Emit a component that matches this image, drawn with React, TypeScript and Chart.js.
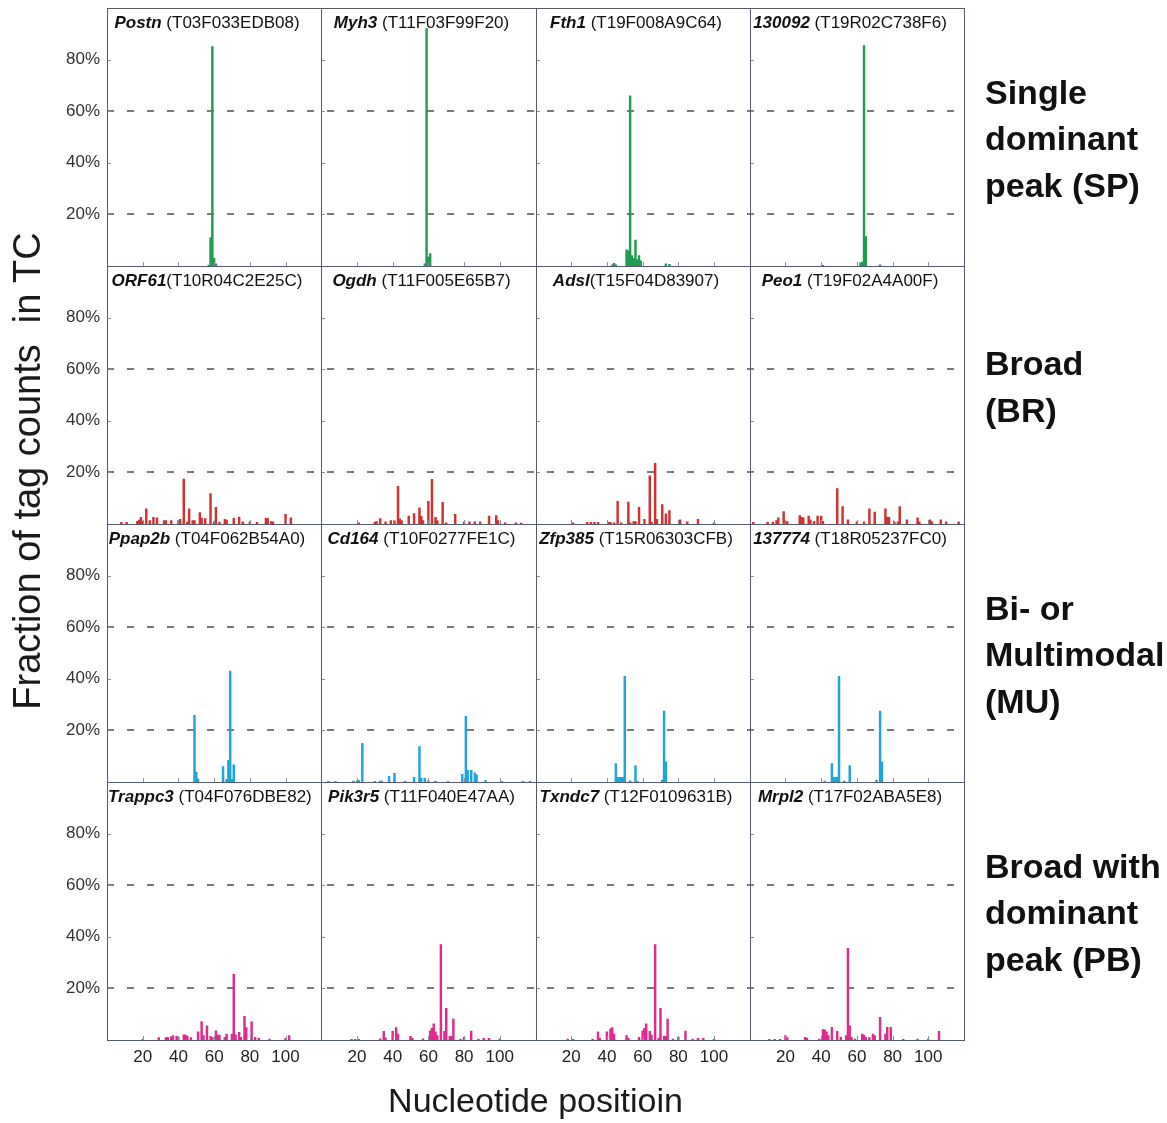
import React, { useEffect, useRef } from 'react';
import { Chart, registerables } from 'chart.js';

Chart.register(...registerables);

// ---------- text ----------
const geneNames = ['Postn', 'Myh3', 'Fth1', '130092', 'ORF61', 'Ogdh', 'Adsl', 'Peo1', 'Ppap2b', 'Cd164', 'Zfp385', '137774', 'Trappc3', 'Pik3r5', 'Txndc7', 'Mrpl2'];
const tcIds = [' (T03F033EDB08)', ' (T11F03F99F20)', ' (T19F008A9C64)', ' (T19R02C738F6)', '(T10R04C2E25C)', ' (T11F005E65B7)', '(T15F04D83907)', ' (T19F02A4A00F)', ' (T04F062B54A0)', ' (T10F0277FE1C)', ' (T15R06303CFB)', ' (T18R05237FC0)', ' (T04F076DBE82)', ' (T11F040E47AA)', ' (T12F0109631B)', ' (T17F02ABA5E8)'];
const rowLabels = [
  ['Single', 'dominant', 'peak (SP)'],
  ['Broad', '(BR)'],
  ['Bi- or', 'Multimodal', '(MU)'],
  ['Broad with', 'dominant', 'peak (PB)'],
];
const yAxisTitle = 'Fraction of tag counts  in TC';
const xAxisTitle = 'Nucleotide positioin';
const xTickValues = [20, 40, 60, 80, 100];
const yTickValues = [20, 40, 60, 80];
const dashedLevels = [20, 60];
const rowColors = ['#1f9d4f', '#d33030', '#1ba6dd', '#e02a8d'];

// ---------- data: nucleotide position / % of tag counts ----------
const postnPos = [57, 58, 59, 60, 61];
const postnVal = [0.4, 11, 85, 3, 0.8];
const myh3Pos = [58, 59, 60, 61];
const myh3Val = [0.8, 92, 3.5, 4.8];
const fth1Pos = [43, 44, 45, 51, 52, 53, 54, 55, 56, 57, 58, 59, 73, 75];
const fth1Val = [0.5, 1, 0.5, 6.3, 6, 66, 4, 3, 10, 2.5, 4, 2, 0.8, 0.6];
const c130092Pos = [41, 62, 63, 64, 65, 73];
const c130092Val = [0.3, 1.2, 1.5, 85.4, 11.4, 0.5];

const orf61Pos = [8, 11, 17, 18, 19, 20, 22, 24, 26, 28, 32, 33, 36, 40, 41, 43, 45, 46, 48, 49, 52, 53, 55, 58, 60, 61, 63, 66, 67, 71, 74, 76, 80, 84, 89, 90, 92, 93, 100, 103];
const orf61Val = [0.6, 0.6, 1, 1.5, 2.6, 1, 5.9, 1.3, 2.6, 2.4, 1.3, 1.3, 1.3, 1.3, 1.8, 17.4, 0.7, 5.9, 1.3, 1.3, 4.4, 2.3, 2.1, 11.8, 0.8, 6.5, 0.7, 1.8, 1.5, 2.2, 2.7, 0.8, 0.8, 0.6, 2.2, 2.2, 0.9, 0.8, 3.7, 2.4];
const ogdhPos = [21, 30, 31, 33, 36, 39, 41, 43, 44, 45, 49, 52, 55, 56, 57, 60, 62, 64, 65, 68, 70, 75, 80, 83, 86, 89, 94, 98, 99, 103, 109, 112];
const ogdhVal = [0.5, 0.7, 0.9, 2.1, 0.8, 1.3, 1.2, 14.6, 2, 1.3, 3.1, 4, 6.3, 3.1, 1.3, 8.8, 17.3, 2.6, 1.3, 8.4, 0.5, 3.7, 0.8, 0.8, 0.8, 0.8, 3.1, 3.3, 1.3, 0.5, 0.5, 0.4];
const adslPos = [21, 29, 31, 33, 35, 41, 42, 44, 46, 48, 52, 53, 55, 56, 58, 61, 64, 65, 67, 68, 71, 73, 75, 81, 85, 91, 100];
const adslVal = [0.5, 0.6, 0.6, 0.6, 0.6, 0.6, 0.6, 0.5, 8.8, 0.5, 8.5, 0.5, 0.9, 0.9, 6.5, 1.8, 18.7, 0.6, 23.5, 1.8, 7.5, 3.9, 5.2, 1.6, 0.8, 1.8, 0.5];
const peo1Pos = [2, 10, 13, 15, 16, 19, 21, 28, 29, 30, 33, 34, 36, 38, 40, 41, 49, 52, 55, 60, 64, 67, 70, 76, 77, 78, 81, 83, 84, 88, 94, 95, 101, 102, 107, 110, 117];
const peo1Val = [0.6, 0.7, 0.7, 1.3, 2.4, 4.8, 0.9, 3.3, 2.6, 2.4, 3.1, 1.6, 1, 3.1, 3.1, 1, 13.7, 6.8, 1.6, 0.8, 0.8, 5.9, 4.6, 5.9, 2.6, 2.6, 0.8, 0.8, 6.8, 1.6, 2.4, 0.8, 1.6, 0.8, 1.6, 0.8, 0.8];

const ppap2bPos = [49, 50, 51, 65, 67, 68, 69, 70, 71];
const ppap2bVal = [25.8, 3.8, 1.2, 6, 1, 8.4, 43, 1, 6.7];
const cd164Pos = [4, 8, 18, 20, 21, 23, 30, 33, 34, 38, 41, 47, 52, 55, 56, 58, 60, 64, 71, 79, 81, 82, 84, 86, 87, 92, 101, 113, 117];
const cd164Val = [0.3, 0.3, 0.4, 0.5, 0.6, 15, 0.3, 0.4, 0.4, 2.2, 3.4, 0.4, 1.8, 13.7, 1.5, 1.5, 0.5, 0.4, 0.3, 3, 25.5, 4.5, 4.5, 3.6, 2.8, 0.6, 0.3, 0.3, 0.3];
const zfp385Pos = [45, 46, 47, 48, 49, 50, 53, 56, 57, 71, 72, 73];
const zfp385Val = [7.1, 1.8, 1.8, 1.8, 1.8, 41, 0.5, 6.4, 0.4, 0.7, 27.5, 7.8];
const c137774Pos = [42, 46, 47, 48, 49, 50, 53, 56, 71, 73, 74];
const c137774Val = [0.4, 7.1, 1.8, 1.8, 1.8, 41, 0.4, 6.4, 0.7, 27.5, 7.8];

const trappc3Pos = [20, 29, 33, 34, 36, 37, 39, 40, 43, 44, 45, 47, 51, 53, 54, 56, 58, 59, 61, 62, 63, 66, 67, 70, 71, 72, 74, 75, 77, 78, 81, 83, 85, 91, 100, 102];
const trappc3Val = [0.3, 0.9, 0.9, 1, 1.3, 1.7, 1.4, 1, 2, 1.9, 1.4, 0.9, 3.2, 7.1, 1.7, 5.5, 1.4, 1, 3.6, 1.9, 1.9, 1, 2.3, 2.3, 25.5, 2, 3, 1, 9.2, 4.8, 7, 1, 0.6, 0.4, 0.6, 1.7];
const pik3r5Pos = [17, 19, 21, 33, 35, 36, 40, 42, 43, 50, 51, 57, 61, 62, 63, 64, 65, 67, 69, 70, 72, 73, 74, 78, 80, 84, 88, 91, 94, 100];
const pik3r5Val = [0.3, 0.3, 0.3, 0.5, 3.4, 0.8, 3.4, 4.8, 2.3, 1.4, 0.6, 0.5, 3.6, 4.5, 6.3, 3.2, 1.7, 37, 3.4, 12.3, 1.4, 1.3, 8.1, 0.4, 1, 3.5, 0.4, 0.6, 0.6, 0.4];
const txndc7Pos = [18, 21, 32, 35, 36, 40, 42, 43, 44, 51, 52, 58, 60, 61, 62, 64, 65, 67, 69, 70, 72, 73, 74, 77, 80, 84, 88, 91, 94, 100];
const txndc7Val = [0.4, 0.3, 0.4, 3.2, 0.6, 3.2, 4.3, 4.8, 2.3, 1.7, 0.6, 1, 3.6, 4.5, 6.3, 3.4, 1.9, 37, 0.6, 12.3, 1.4, 1.4, 8.1, 0.4, 1, 3.5, 0.4, 0.6, 0.6, 0.4];
const mrpl2Pos = [11, 14, 17, 20, 21, 31, 32, 39, 41, 42, 43, 44, 46, 49, 51, 54, 55, 56, 57, 59, 63, 64, 65, 67, 69, 70, 73, 76, 77, 79, 86, 94, 100, 106];
const mrpl2Val = [0.3, 0.3, 0.3, 1.7, 0.9, 1, 0.7, 0.4, 4, 3.9, 3.2, 1.7, 4.9, 3.4, 1, 1.7, 35.5, 5.5, 1, 0.4, 2.3, 1.9, 1, 0.9, 2.3, 1.7, 8.8, 2.3, 4.9, 4.9, 0.3, 0.4, 0.4, 3.4];

const panelPositions = [
  postnPos, myh3Pos, fth1Pos, c130092Pos,
  orf61Pos, ogdhPos, adslPos, peo1Pos,
  ppap2bPos, cd164Pos, zfp385Pos, c137774Pos,
  trappc3Pos, pik3r5Pos, txndc7Pos, mrpl2Pos,
];
const panelValues = [
  postnVal, myh3Val, fth1Val, c130092Val,
  orf61Val, ogdhVal, adslVal, peo1Val,
  ppap2bVal, cd164Val, zfp385Val, c137774Val,
  trappc3Val, pik3r5Val, txndc7Val, mrpl2Val,
];

const FAMILY = '"Liberation Sans", Arial, Helvetica, sans-serif';

const panelPlugin = {
  id: 'panelDecor',
  afterDraw(chart: any) {
    const ctx = chart.ctx as CanvasRenderingContext2D;
    ctx.save();
    for (let r = 0; r < 4; r++) {
      for (let c = 0; c < 4; c++) {
        const xs = chart.scales['x' + c];
        const ys = chart.scales['y' + r];
        const l = Math.round(xs.left);
        const rt = Math.round(xs.right);
        const t = Math.round(ys.top);
        const b = Math.round(ys.bottom);
        // small inner tick marks
        ctx.strokeStyle = '#8d8f9c';
        ctx.lineWidth = 1;
        ctx.beginPath();
        xTickValues.forEach((v) => {
          const px = Math.round(xs.getPixelForValue(v)) + 0.5;
          ctx.moveTo(px, b);
          ctx.lineTo(px, b - 4);
        });
        yTickValues.forEach((v) => {
          const py = Math.round(ys.getPixelForValue(v)) + 0.5;
          ctx.moveTo(l, py);
          ctx.lineTo(l + 4, py);
        });
        ctx.stroke();
        // frame
        ctx.strokeStyle = '#555a6e';
        ctx.lineWidth = 1;
        ctx.strokeRect(l + 0.5, t + 0.5, rt - l, b - t);
        // title
        const i = r * 4 + c;
        const nameFont = `italic bold 17px ${FAMILY}`;
        const idFont = `17px ${FAMILY}`;
        ctx.font = nameFont;
        const w1 = ctx.measureText(geneNames[i]).width;
        ctx.font = idFont;
        const w2 = ctx.measureText(tcIds[i]).width;
        const cx = (l + rt) / 2 - 7;
        let x0 = cx - (w1 + w2) / 2;
        if (x0 < l + 1) x0 = l + 1;
        const ty = t + 15;
        ctx.fillStyle = '#111';
        ctx.textBaseline = 'middle';
        ctx.textAlign = 'left';
        ctx.font = nameFont;
        ctx.fillText(geneNames[i], x0, ty);
        ctx.font = idFont;
        ctx.fillText(tcIds[i], x0 + w1, ty);
      }
      // right-side row label
      const ys = chart.scales['y' + r];
      const lines = rowLabels[r];
      const lh = 46.5;
      const mid = (ys.top + ys.bottom) / 2 + 4 + (lines.length === 2 ? -10 : 0);
      ctx.font = `bold 34px ${FAMILY}`;
      ctx.fillStyle = '#111';
      ctx.textAlign = 'left';
      ctx.textBaseline = 'middle';
      lines.forEach((s, k) => {
        ctx.fillText(s, 985, mid + (k - (lines.length - 1) / 2) * lh);
      });
    }
    // axis titles
    const area = chart.chartArea;
    ctx.fillStyle = '#1a1a1a';
    ctx.textAlign = 'center';
    ctx.textBaseline = 'middle';
    ctx.font = `34px ${FAMILY}`;
    ctx.fillText(xAxisTitle, (area.left + area.right) / 2, 1103);
    ctx.save();
    ctx.translate(30, 471);
    ctx.rotate(-Math.PI / 2);
    ctx.font = `38px ${FAMILY}`;
    ctx.fillText(yAxisTitle, 0, 0);
    ctx.restore();
    ctx.restore();
  },
};

function buildConfig(): any {
  const scales: any = {};
  for (let c = 0; c < 4; c++) {
    scales['x' + c] = {
      type: 'linear',
      position: 'bottom',
      stack: 'cols',
      stackWeight: 1,
      weight: c,
      min: 0,
      max: 120,
      offset: false,
      afterBuildTicks: (s: any) => {
        s.ticks = xTickValues.map((v) => ({ value: v }));
      },
      ticks: {
        callback: (v: any) => String(v),
        font: { size: 17, family: FAMILY },
        color: '#222',
        padding: 7,
        maxRotation: 0,
        autoSkip: false,
      },
      grid: { display: false, drawTicks: false, offset: false },
      border: { display: false },
      afterFit: (s: any) => {
        s.height = 40;
        s.paddingLeft = 0;
        s.paddingRight = 0;
      },
    };
  }
  for (let r = 0; r < 4; r++) {
    scales['y' + r] = {
      type: 'linear',
      position: 'left',
      stack: 'rows',
      stackWeight: 1,
      weight: 4 - r,
      min: 0,
      max: 100,
      afterBuildTicks: (s: any) => {
        s.ticks = yTickValues.map((v) => ({ value: v }));
      },
      ticks: {
        callback: (v: any) => v + '%',
        font: { size: 17, family: FAMILY },
        color: '#333',
        padding: 7,
        autoSkip: false,
      },
      grid: {
        color: (ctx: any) => (ctx.tick && dashedLevels.includes(ctx.tick.value) ? '#7a7a7a' : 'rgba(0,0,0,0)'),
        lineWidth: 2,
        drawTicks: false,
      },
      border: { display: false, dash: [7, 13] },
      afterFit: (s: any) => {
        s.width = 60;
        s.paddingTop = 0;
        s.paddingBottom = 0;
      },
    };
  }
  const datasets = panelPositions.map((pos, i) => {
    const r = Math.floor(i / 4);
    const c = i % 4;
    return {
      label: geneNames[i],
      data: pos.map((p, k) => ({ x: p, y: panelValues[i][k] })),
      xAxisID: 'x' + c,
      yAxisID: 'y' + r,
      backgroundColor: rowColors[r],
      borderWidth: 0,
      barThickness: 1.8,
      grouped: false,
    };
  });
  return {
    type: 'bar',
    data: { datasets },
    options: {
      responsive: false,
      maintainAspectRatio: false,
      devicePixelRatio: 1,
      animation: false,
      layout: { padding: { left: 47, right: 203, top: 8, bottom: 43 } },
      plugins: { legend: { display: false }, tooltip: { enabled: false }, title: { display: false } },
      scales,
    },
    plugins: [panelPlugin],
  };
}

export default function App() {
  const ref = useRef<HTMLCanvasElement>(null);
  useEffect(() => {
    if (!ref.current) return;
    const chart = new Chart(ref.current, buildConfig());
    return () => chart.destroy();
  }, []);
  return (
    <div style={{ position: 'absolute', left: 0, top: 0, width: 1167, height: 1123, background: '#fff' }}>
      <canvas ref={ref} width={1167} height={1123} style={{ display: 'block', width: 1167, height: 1123 }} />
    </div>
  );
}
